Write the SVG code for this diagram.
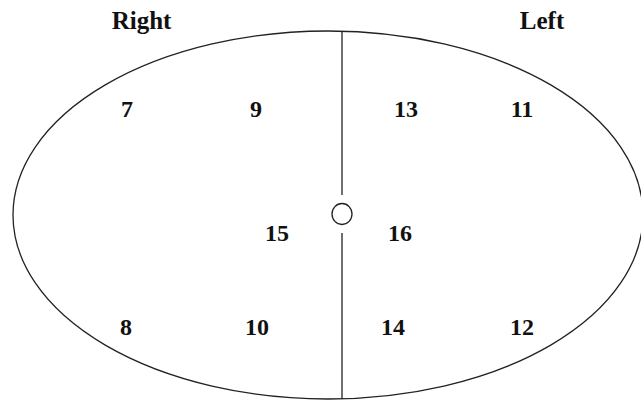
<svg xmlns="http://www.w3.org/2000/svg" width="641" height="400" viewBox="0 0 641 400">
<style>
.t{font-family:"Liberation Serif","Times New Roman",serif;font-weight:bold;font-size:24px;fill:#111;text-anchor:middle}
.s{fill:none;stroke:#222;stroke-width:1.3}
</style>
<rect width="641" height="400" fill="#fff"/>
<g id="outline"><ellipse class="s" cx="328" cy="215" rx="315" ry="184"/></g>
<g id="connectors">
<line class="s" x1="342" y1="31" x2="342" y2="195"/>
<line class="s" x1="342" y1="233" x2="342" y2="399"/>
</g>
<g id="center"><ellipse class="s" cx="342" cy="214" rx="10" ry="10.5"/></g>
<g id="labels">
<text class="t" x="141.5" y="29" style="font-size:25px">Right</text>
<text class="t" x="542" y="29" style="font-size:25px">Left</text>
</g>
<g id="n7"><text class="t" x="127" y="117">7</text></g>
<g id="n9"><text class="t" x="256" y="117">9</text></g>
<g id="n13"><text class="t" x="406" y="117">13</text></g>
<g id="n11"><text class="t" x="522" y="117">11</text></g>
<g id="n15"><text class="t" x="277" y="241">15</text></g>
<g id="n16"><text class="t" x="400" y="241">16</text></g>
<g id="n8"><text class="t" x="126" y="335">8</text></g>
<g id="n10"><text class="t" x="257" y="335">10</text></g>
<g id="n14"><text class="t" x="393" y="335">14</text></g>
<g id="n12"><text class="t" x="522" y="335">12</text></g>
</svg>
